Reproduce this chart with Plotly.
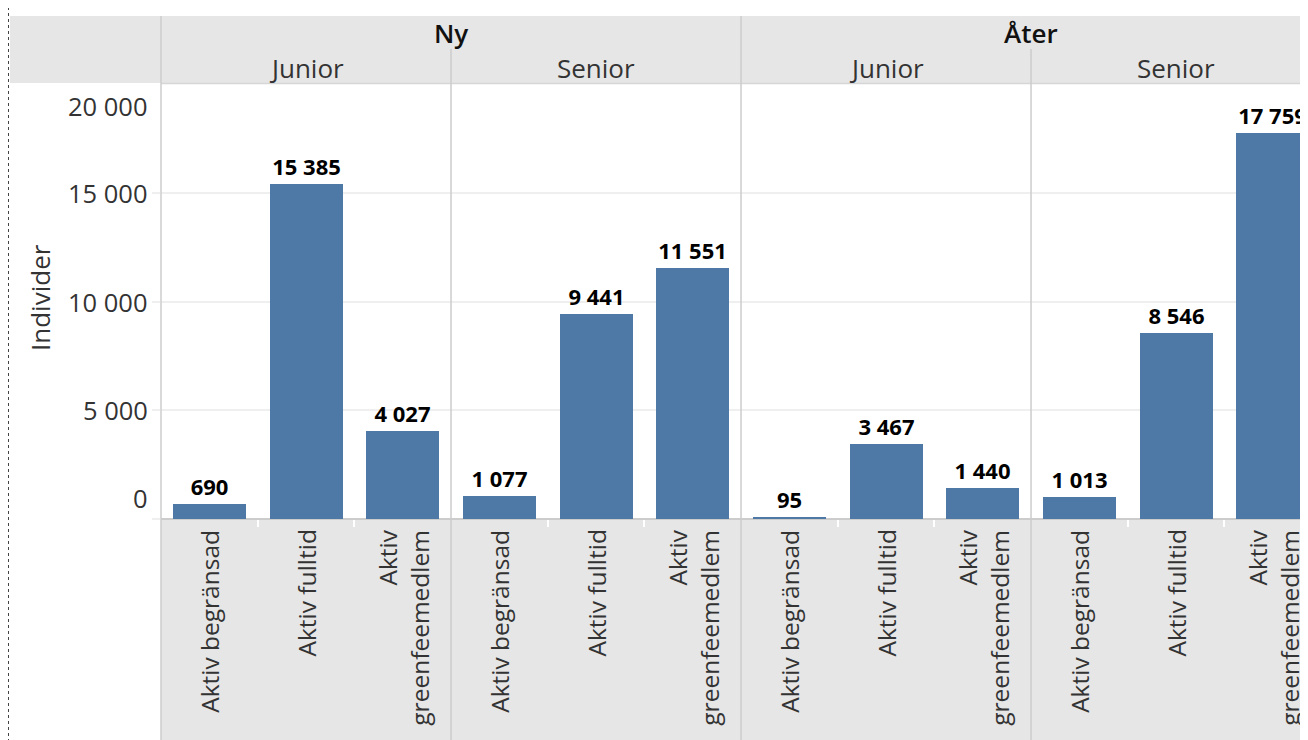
import plotly.graph_objects as go

# ---------------- data ----------------
member_types = ["Ny", "Åter"]
age_groups = ["Junior", "Senior"]
categories = ["Aktiv begränsad", "Aktiv fulltid", "Aktiv<br>greenfeemedlem"]
ny_junior = [690, 15385, 4027]
ny_senior = [1077, 9441, 11551]
ater_junior = [95, 3467, 1440]
ater_senior = [1013, 8546, 17759]
y_ticks = [0, 5000, 10000, 15000, 20000]
y_title = "Individer"

values = ny_junior + ny_senior + ater_junior + ater_senior
xpos = list(range(len(values)))

# ---------------- layout geometry ----------------
# the page has an 8px body margin, so the figure starts at (8, 8)
OFF = 8
W, H = 1308 - OFF, 740 - OFF
PLOT_L, PLOT_T, PLOT_B = 161, 84, 519          # page pixels
ML, MT = PLOT_L - OFF, PLOT_T - OFF
PH = PLOT_B - PLOT_T
MB = H - (PLOT_B - OFF)
MR = 0
PW = W - ML - MR
XR = [-0.5, 11.365]
YR = [0, 20000]

FONT = "'Open Sans', 'Noto Sans', sans-serif"
TXT = "#333333"
BAR = "#4e79a7"
BAND = "#e6e6e6"
LINE = "#cccccc"


def px_to_paper_x(px):
    return (px - PLOT_L) / PW


def px_to_paper_y(py):
    return (PLOT_B - py) / PH


def data_to_paper_x(p):
    return (p - XR[0]) / (XR[1] - XR[0])


def fmt(v):
    return f"{v:,}".replace(",", " ")


fig = go.Figure()
fig.add_trace(go.Bar(
    x=xpos, y=values, width=0.755,
    marker=dict(color=BAR, line=dict(width=0)),
    text=[fmt(v) for v in values], textposition="outside",
    textfont=dict(family=FONT, size=22, color="#000000", weight="bold"),
    cliponaxis=False, hoverinfo="skip", showlegend=False,
))

shapes = []
# header band
shapes.append(dict(type="rect", xref="paper", yref="paper",
                   x0=px_to_paper_x(10), x1=1.02, y0=px_to_paper_y(83), y1=px_to_paper_y(16),
                   fillcolor=BAND, line=dict(width=0), layer="below"))
# bottom label band
shapes.append(dict(type="rect", xref="paper", yref="paper",
                   x0=0, x1=1.02, y0=px_to_paper_y(742), y1=0,
                   fillcolor=BAND, line=dict(width=0), layer="below"))
# header bottom line
shapes.append(dict(type="line", xref="paper", yref="paper",
                   x0=0, x1=1.02, y0=px_to_paper_y(83.5), y1=px_to_paper_y(83.5),
                   line=dict(color="#d6d6d6", width=1.5), layer="above"))
# panel separators
n_cat = len(categories)
for i in range(len(member_types) * len(age_groups) + 1):
    p = i * n_cat - 0.5
    xp = data_to_paper_x(p)
    if xp > 1:
        continue
    full = (i % 2 == 0)
    top = 16 if full else 49
    shapes.append(dict(type="line", xref="paper", yref="paper",
                       x0=xp, x1=xp, y0=px_to_paper_y(742), y1=px_to_paper_y(top),
                       line=dict(color=LINE, width=1.5), layer="above"))
# dotted left border
shapes.append(dict(type="line", xref="paper", yref="paper",
                   x0=px_to_paper_x(8.5), x1=px_to_paper_x(8.5), y0=px_to_paper_y(742), y1=px_to_paper_y(6),
                   line=dict(color="#444444", width=1, dash="dot"), layer="above"))

annotations = []
# top header: member types
for k, t in enumerate(member_types):
    center = k * 2 * n_cat + n_cat - 0.5
    annotations.append(dict(text=t, xref="x", yref="paper", x=center, y=px_to_paper_y(33),
                            xanchor="center", yanchor="middle", showarrow=False,
                            font=dict(family=FONT, size=26, color="#111111", weight=600)))
# second header: age groups
for k in range(len(member_types)):
    for j, a in enumerate(age_groups):
        center = (k * 2 + j) * n_cat + (n_cat - 1) / 2
        annotations.append(dict(text=a, xref="x", yref="paper", x=center, y=px_to_paper_y(68),
                                xanchor="center", yanchor="middle", showarrow=False,
                                font=dict(family=FONT, size=26, color=TXT)))
# category labels (rotated)
for i in xpos:
    annotations.append(dict(text=categories[i % n_cat], xref="x", yref="paper",
                            x=i, y=px_to_paper_y(528), xanchor="center", yanchor="top",
                            textangle=-90, align="right", showarrow=False,
                            font=dict(family=FONT, size=24.5, color=TXT)))
# y tick labels
for v in y_ticks:
    if v == YR[0]:
        ya, ys = "bottom", 2
    elif v == YR[1]:
        ya, ys = "top", -3
    else:
        ya, ys = "middle", 0
    annotations.append(dict(text=fmt(v), xref="paper", yref="y", x=px_to_paper_x(150), y=v,
                            xanchor="right", yanchor=ya, yshift=ys, showarrow=False,
                            font=dict(family=FONT, size=25.5, color=TXT)))
# y title
annotations.append(dict(text=y_title, xref="paper", yref="paper", x=px_to_paper_x(40),
                        y=px_to_paper_y(298), xanchor="center", yanchor="middle",
                        textangle=-90, showarrow=False,
                        font=dict(family=FONT, size=26, color=TXT)))

boundaries = [p + 0.5 for p in xpos if (p % n_cat) != n_cat - 1]

fig.update_layout(
    width=W, height=H,
    margin=dict(l=ML, r=MR, t=MT, b=MB, pad=0),
    paper_bgcolor="white", plot_bgcolor="rgba(0,0,0,0)",
    bargap=0,
    shapes=shapes, annotations=annotations,
    xaxis=dict(range=XR, showgrid=False, zeroline=False, showline=False,
               tickvals=boundaries, ticktext=["" for _ in boundaries],
               ticks="outside", ticklen=7, tickwidth=1.5, tickcolor="white",
               showticklabels=False, fixedrange=True),
    yaxis=dict(range=YR, tickvals=y_ticks[:-1], showticklabels=False,
               showgrid=True, gridcolor="#efefef", gridwidth=1.5,
               ticks="outside", ticklen=8, tickcolor="#efefef", tickwidth=1.5,
               zeroline=True, zerolinecolor=LINE, zerolinewidth=1.5,
               showline=False, fixedrange=True),
    font=dict(family=FONT, color=TXT),
)

fig.write_html("out.html")
